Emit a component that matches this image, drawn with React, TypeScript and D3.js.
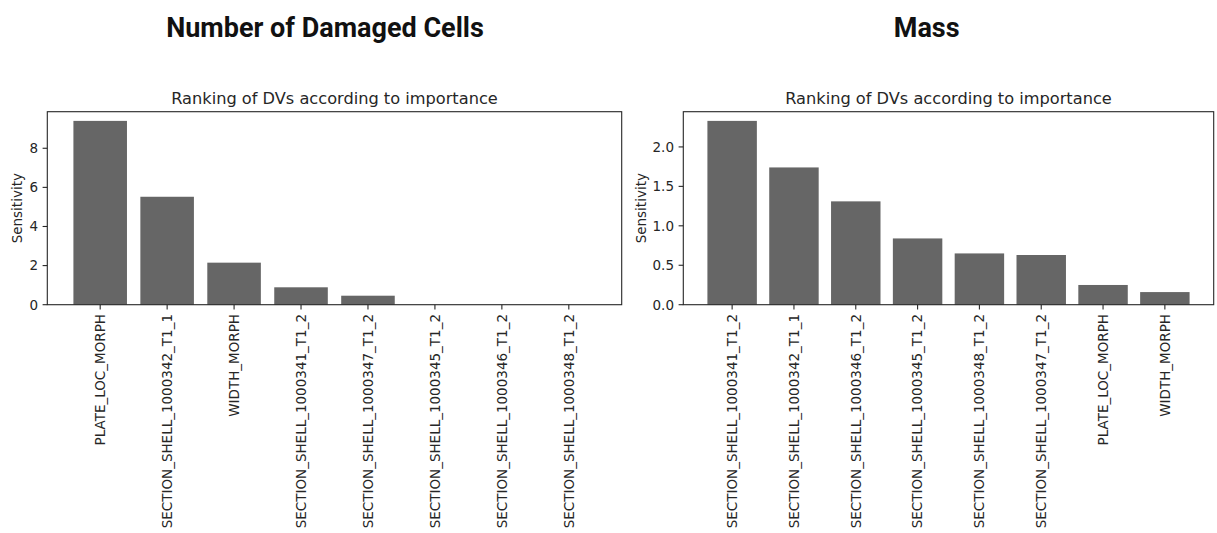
import React from "react";
import * as d3 from "d3";

// Sensitivity of each design variable, sorted by importance
const damagedCategories = [
  "PLATE_LOC_MORPH",
  "SECTION_SHELL_1000342_T1_1",
  "WIDTH_MORPH",
  "SECTION_SHELL_1000341_T1_2",
  "SECTION_SHELL_1000347_T1_2",
  "SECTION_SHELL_1000345_T1_2",
  "SECTION_SHELL_1000346_T1_2",
  "SECTION_SHELL_1000348_T1_2",
];
const damagedValues = [9.4, 5.52, 2.15, 0.89, 0.46, 0, 0, 0];
const damagedTicks = [0, 2, 4, 6, 8];

const massCategories = [
  "SECTION_SHELL_1000341_T1_2",
  "SECTION_SHELL_1000342_T1_1",
  "SECTION_SHELL_1000346_T1_2",
  "SECTION_SHELL_1000345_T1_2",
  "SECTION_SHELL_1000348_T1_2",
  "SECTION_SHELL_1000347_T1_2",
  "PLATE_LOC_MORPH",
  "WIDTH_MORPH",
];
const massValues = [2.33, 1.74, 1.31, 0.84, 0.65, 0.63, 0.25, 0.16];
const massTicks = [0, 0.5, 1.0, 1.5, 2.0];

const W = 1217;
const H = 533;
const TOP = 111.7;
const BOTTOM = 304.7;
const FONT = "'DejaVu Sans', sans-serif";
const BAR = "#666666";
const INK = "#262626";
const TICK = 4.7;
const PAD = 4.6;
const LABEL_SIZE = 13.5;
const TITLE_SIZE = 16.2;

type PanelProps = {
  left: number;
  right: number;
  categories: string[];
  values: number[];
  ticks: number[];
  tickFormat: (v: number) => string;
  ylabelX: number;
};

function Panel({ left, right, categories, values, ticks, tickFormat, ylabelX }: PanelProps) {
  const n = categories.length;
  const half = 0.4;
  const span = n - 1 + 2 * half;
  const margin = 0.05 * span;
  const x = d3
    .scaleLinear()
    .domain([-half - margin, n - 1 + half + margin])
    .range([left, right]);
  const yMax = (d3.max(values) ?? 1) * 1.05;
  const y = d3.scaleLinear().domain([0, yMax]).range([BOTTOM, TOP]);
  const cx = (left + right) / 2;
  const cy = (TOP + BOTTOM) / 2;

  return (
    <g>
      <text
        x={cx}
        y={TOP - 8}
        textAnchor="middle"
        fontFamily={FONT}
        fontSize={TITLE_SIZE}
        fill={INK}
      >
        Ranking of DVs according to importance
      </text>

      {values.map((v, i) => (
        <rect
          key={categories[i]}
          x={x(i - half)}
          y={y(v)}
          width={x(i + half) - x(i - half)}
          height={y(0) - y(v)}
          fill={BAR}
        />
      ))}

      {/* y axis ticks */}
      {ticks.map((t) => (
        <g key={t}>
          <line x1={left - TICK} x2={left} y1={y(t)} y2={y(t)} stroke={INK} strokeWidth={1.1} />
          <text
            x={left - TICK - PAD}
            y={y(t)}
            dy="0.36em"
            textAnchor="end"
            fontFamily={FONT}
            fontSize={LABEL_SIZE}
            fill={INK}
          >
            {tickFormat(t)}
          </text>
        </g>
      ))}

      {/* x axis ticks with rotated labels */}
      {categories.map((c, i) => (
        <g key={c}>
          <line x1={x(i)} x2={x(i)} y1={BOTTOM} y2={BOTTOM + TICK} stroke={INK} strokeWidth={1.1} />
          <text
            transform={`translate(${x(i)},${BOTTOM + TICK + PAD}) rotate(-90)`}
            dy="0.36em"
            textAnchor="end"
            fontFamily={FONT}
            fontSize={LABEL_SIZE}
            fill={INK}
          >
            {c}
          </text>
        </g>
      ))}

      <text
        transform={`translate(${ylabelX},${cy}) rotate(-90)`}
        textAnchor="middle"
        fontFamily={FONT}
        fontSize={LABEL_SIZE}
        fill={INK}
      >
        Sensitivity
      </text>

      <rect
        x={left}
        y={TOP}
        width={right - left}
        height={BOTTOM - TOP}
        fill="none"
        stroke={INK}
        strokeWidth={1.1}
      />
    </g>
  );
}

export default function App() {
  return (
    <svg
      width={W}
      height={H}
      viewBox={`0 0 ${W} ${H}`}
      style={{ position: "absolute", left: 0, top: 0, background: "#fff" }}
    >
      <rect width={W} height={H} fill="#fff" />
      <text
        x={325}
        y={37}
        textAnchor="middle"
        fontFamily="Roboto, sans-serif"
        fontWeight={700}
        fontSize={27}
        fill="#111"
      >
        Number of Damaged Cells
      </text>
      <text
        x={926.7}
        y={37}
        textAnchor="middle"
        fontFamily="Roboto, sans-serif"
        fontWeight={700}
        fontSize={27}
        fill="#111"
      >
        Mass
      </text>
      <Panel
        left={47.3}
        right={621.7}
        categories={damagedCategories}
        values={damagedValues}
        ticks={damagedTicks}
        tickFormat={(v) => d3.format("d")(v)}
        ylabelX={21.5}
      />
      <Panel
        left={683.3}
        right={1213.7}
        categories={massCategories}
        values={massValues}
        ticks={massTicks}
        tickFormat={(v) => d3.format(".1f")(v)}
        ylabelX={646.3}
      />
    </svg>
  );
}
